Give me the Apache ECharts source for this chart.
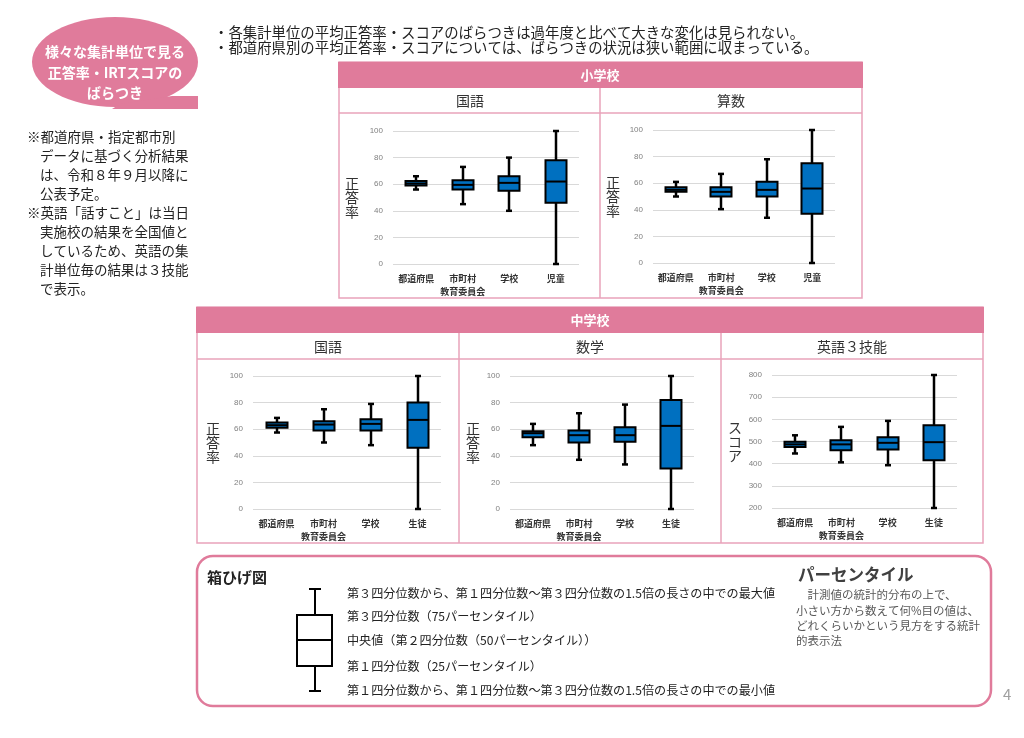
<!DOCTYPE html>
<html>
<head>
<meta charset="utf-8">
<script src="https://cdn.jsdelivr.net/npm/echarts@6/dist/echarts.min.js"></script>
<style>
  html, body { margin: 0; padding: 0; background: #fff; }
  #main { width: 1024px; height: 738px; }
</style>
</head>
<body>
<div id="main"></div>
<script>
// categories
const catElem = ['都道府県', '市町村\n教育委員会', '学校', '児童'];
const catJunior = ['都道府県', '市町村\n教育委員会', '学校', '生徒'];

// [min, q1, median, q3, max] per category
const elemJapanese = [[56, 59, 60.5, 62.5, 66], [45, 56, 59.5, 63, 73], [40, 55, 61, 66, 80], [0, 46, 62, 78, 100]];
const elemMath = [[50, 53.5, 55, 57, 61], [40.5, 50, 53.5, 57, 67], [34, 50, 55, 61, 78], [0, 37, 56, 75, 100]];
const juniorJapanese = [[57.5, 61, 63, 65, 68.5], [50, 59, 63.5, 66, 75], [48, 59, 64, 67.5, 79], [0, 46, 67, 80, 100]];
const juniorMath = [[48, 54, 57, 58.5, 64], [37, 50, 55.5, 59, 72], [33.5, 50.5, 55.5, 61.5, 78.5], [0, 30.5, 62.5, 82, 100]];
const juniorEnglish = [[446, 475, 487, 499, 528], [406, 461, 487, 506, 566], [393, 464, 494, 519, 593], [200, 415, 497, 573, 800]];

const FONT = '"Noto Sans CJK JP", "Noto Sans", sans-serif';
const PINK = '#e07b9b';
const PINK_LINE = '#e9a3ba';
const BLUE = '#0070c0';

const chart = echarts.init(document.getElementById('main'));

// panel layouts (grid in page pixels), nameX = centre of the vertical axis title
const panels = [
  { cats: catElem, data: elemJapanese, left: 393, top: 131, width: 186, yName: '正\n答\n率', nameX: 352, min: 0, max: 100, step: 20 },
  { cats: catElem, data: elemMath, left: 653, top: 130, width: 182, yName: '正\n答\n率', nameX: 613, min: 0, max: 100, step: 20 },
  { cats: catJunior, data: juniorJapanese, left: 253, top: 376, width: 188, yName: '正\n答\n率', nameX: 213, min: 0, max: 100, step: 20 },
  { cats: catJunior, data: juniorMath, left: 510, top: 376, width: 184, yName: '正\n答\n率', nameX: 473, min: 0, max: 100, step: 20 },
  { cats: catJunior, data: juniorEnglish, left: 772, top: 375, width: 185, yName: 'ス\nコ\nア', nameX: 735, min: 200, max: 800, step: 100 }
];

function renderBox(params, api) {
  const i = api.value(0);
  const lo = api.coord([i, api.value(1)]);
  const q1 = api.coord([i, api.value(2)]);
  const md = api.coord([i, api.value(3)]);
  const q3 = api.coord([i, api.value(4)]);
  const hi = api.coord([i, api.value(5)]);
  const cx = Math.round(lo[0]);
  const w = 21, cap = 3;
  const ln = { stroke: '#000', lineWidth: 2.5 };
  return {
    type: 'group',
    children: [
      { type: 'line', shape: { x1: cx, y1: hi[1], x2: cx, y2: lo[1] }, style: ln },
      { type: 'line', shape: { x1: cx - cap, y1: hi[1], x2: cx + cap, y2: hi[1] }, style: ln },
      { type: 'line', shape: { x1: cx - cap, y1: lo[1], x2: cx + cap, y2: lo[1] }, style: ln },
      { type: 'rect', shape: { x: cx - w / 2, y: q3[1], width: w, height: q1[1] - q3[1] }, style: { fill: BLUE, stroke: '#000', lineWidth: 2 } },
      { type: 'line', shape: { x1: cx - w / 2, y1: md[1], x2: cx + w / 2, y2: md[1] }, style: { stroke: '#000', lineWidth: 2 } }
    ]
  };
}

const grid = [], xAxis = [], yAxis = [], series = [];
panels.forEach((p, k) => {
  grid.push({ left: p.left, top: p.top, width: p.width, height: 133 });
  xAxis.push({
    type: 'category', gridIndex: k, data: p.cats,
    axisLine: { show: false }, axisTick: { show: false },
    axisLabel: { fontFamily: FONT, fontSize: 9, fontWeight: 'bold', color: '#333', margin: 8, lineHeight: 13, interval: 0 }
  });
  yAxis.push({
    type: 'value', gridIndex: k, min: p.min, max: p.max, interval: p.step,
    name: p.yName, nameLocation: 'middle', nameRotate: 0, nameGap: p.left - p.nameX - 7,
    nameTextStyle: { fontFamily: FONT, fontSize: 14, lineHeight: 14, color: '#333' },
    axisLine: { show: false }, axisTick: { show: false },
    axisLabel: {
      fontFamily: 'Liberation Sans, sans-serif', fontSize: 8, color: '#808080', margin: 10
    },
    splitLine: { lineStyle: { color: '#d9d9d9', width: 1 } }
  });
  series.push({
    type: 'custom', xAxisIndex: k, yAxisIndex: k,
    renderItem: renderBox,
    encode: { x: 0, y: [1, 2, 3, 4, 5] },
    data: p.data.map((d, i) => [i].concat(d)),
    silent: true
  });
});

function txt(x, y, text, size, opts) {
  return {
    type: 'text', x: x, y: y, silent: true,
    style: Object.assign({
      text: text, font: (opts && opts.weight ? opts.weight + ' ' : '') + size + 'px ' + FONT,
      fill: '#222', textVerticalAlign: 'middle', textAlign: 'left'
    }, opts && opts.style)
  };
}
function line(x1, y1, x2, y2, stroke, w) {
  return { type: 'line', silent: true, shape: { x1: x1, y1: y1, x2: x2, y2: y2 }, style: { stroke: stroke, lineWidth: w } };
}

const notes = [
  ['※都道府県・指定都市別', 27],
  ['データに基づく分析結果', 40],
  ['は、令和８年９月以降に', 40],
  ['公表予定。', 40],
  ['※英語「話すこと」は当日', 27],
  ['実施校の結果を全国値と', 40],
  ['しているため、英語の集', 40],
  ['計単位毎の結果は３技能', 40],
  ['で表示。', 40]
];
const legendLines = [
  '第３四分位数から、第１四分位数～第３四分位数の1.5倍の長さの中での最大値',
  '第３四分位数（75パーセンタイル）',
  '中央値（第２四分位数（50パーセンタイル））',
  '第１四分位数（25パーセンタイル）',
  '第１四分位数から、第１四分位数～第３四分位数の1.5倍の長さの中での最小値'
];
const legendY = [593, 616, 640, 666, 690];
const percentileLines = ['　計測値の統計的分布の上で、', '小さい方から数えて何%目の値は、', 'どれくらいかという見方をする統計', '的表示法'];

const graphic = [];
// callout bubble
graphic.push({ type: 'ellipse', silent: true, shape: { cx: 115, cy: 62, rx: 83, ry: 45 }, style: { fill: PINK } });
graphic.push({ type: 'polygon', silent: true, shape: { points: [[120, 104], [172, 96], [198, 96], [198, 109], [112, 109]] }, style: { fill: PINK } });
['様々な集計単位で見る', '正答率・IRTスコアの', 'ばらつき'].forEach((t, i) => {
  graphic.push(txt(115, 52 + i * 20.5, t, 14, { weight: 'bold', style: { fill: '#fff', textAlign: 'center' } }));
});
notes.forEach((n, i) => graphic.push(txt(n[1], 137 + i * 19, n[0], 13.5)));

// summary text
graphic.push(txt(214, 33, '・各集計単位の平均正答率・スコアのばらつきは過年度と比べて大きな変化は見られない。', 14.4));
graphic.push(txt(214, 48, '・都道府県別の平均正答率・スコアについては、ばらつきの状況は狭い範囲に収まっている。', 14.4));

// elementary panel
graphic.push({ type: 'rect', silent: true, shape: { x: 339, y: 62, width: 523, height: 236 }, style: { fill: 'none', stroke: PINK_LINE, lineWidth: 1.5 } });
graphic.push({ type: 'rect', silent: true, shape: { x: 338, y: 62, width: 525, height: 26 }, style: { fill: PINK } });
graphic.push(txt(600, 75, '小学校', 13, { weight: 'bold', style: { fill: '#fff', textAlign: 'center' } }));
graphic.push(line(339, 113, 862, 113, PINK_LINE, 1.5));
graphic.push(line(600, 88, 600, 298, PINK_LINE, 1.5));
graphic.push(txt(470, 101, '国語', 14, { style: { textAlign: 'center', fill: '#333' } }));
graphic.push(txt(731, 101, '算数', 14, { style: { textAlign: 'center', fill: '#333' } }));

// junior high panel
graphic.push({ type: 'rect', silent: true, shape: { x: 197, y: 307, width: 786, height: 236 }, style: { fill: 'none', stroke: PINK_LINE, lineWidth: 1.5 } });
graphic.push({ type: 'rect', silent: true, shape: { x: 196, y: 307, width: 788, height: 26 }, style: { fill: PINK } });
graphic.push(txt(590, 320, '中学校', 13, { weight: 'bold', style: { fill: '#fff', textAlign: 'center' } }));
graphic.push(line(197, 359, 983, 359, PINK_LINE, 1.5));
graphic.push(line(459, 333, 459, 543, PINK_LINE, 1.5));
graphic.push(line(721, 333, 721, 543, PINK_LINE, 1.5));
graphic.push(txt(328, 347, '国語', 14, { style: { textAlign: 'center', fill: '#333' } }));
graphic.push(txt(590, 347, '数学', 14, { style: { textAlign: 'center', fill: '#333' } }));
graphic.push(txt(852, 347, '英語３技能', 14, { style: { textAlign: 'center', fill: '#333' } }));

// legend box
graphic.push({ type: 'rect', silent: true, shape: { x: 197, y: 556, width: 794, height: 150, r: 16 }, style: { fill: 'none', stroke: PINK, lineWidth: 2.5 } });
graphic.push(txt(207, 577, '箱ひげ図', 15, { weight: 'bold' }));
graphic.push(line(315, 589, 315, 691, '#000', 2));
graphic.push(line(309, 589, 321, 589, '#000', 2));
graphic.push(line(309, 691, 321, 691, '#000', 2));
graphic.push({ type: 'rect', silent: true, shape: { x: 297, y: 615, width: 35, height: 51 }, style: { fill: '#fff', stroke: '#000', lineWidth: 2 } });
graphic.push(line(297, 640, 332, 640, '#000', 2));
legendLines.forEach((t, i) => graphic.push(txt(347, legendY[i], t, 12.1)));
graphic.push(txt(798, 575, 'パーセンタイル', 16.5, { weight: 'bold', style: { fill: '#404040' } }));
percentileLines.forEach((t, i) => graphic.push(txt(796, 595 + i * 15.3, t, 11.5, { style: { fill: '#595959' } })));

// page number
graphic.push(txt(1003, 694, '4', 15, { style: { fill: '#a0a0a0' } }));

const option = {
  animation: false,
  textStyle: { fontFamily: FONT },
  grid: grid,
  xAxis: xAxis,
  yAxis: yAxis,
  series: series,
  graphic: graphic
};

chart.setOption(option);
window.addEventListener('resize', function () {
  chart.resize();
});
</script>
</body>
</html>
